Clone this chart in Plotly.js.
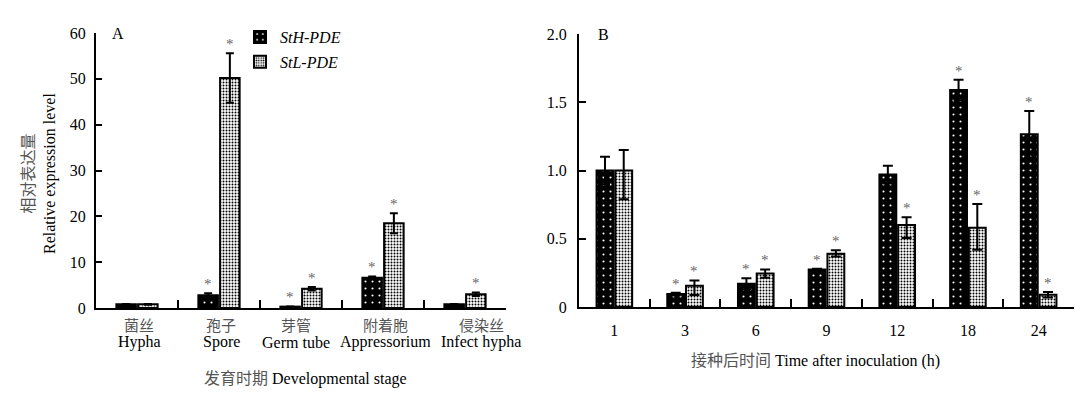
<!DOCTYPE html>
<html><head><meta charset="utf-8">
<script src="https://cdn.plot.ly/plotly-3.0.1.min.js"></script>
<style>html,body{margin:0;padding:0;background:#fff}#c{width:1088px;height:396px}</style>
</head><body><div id="c"></div>
<script>
// Panel A data
const stageCn = ['菌丝','孢子','芽管','附着胞','侵染丝'];
const stageEn = ['Hypha','Spore','Germ tube','Appressorium','Infect hypha'];
const aH = [0.8, 2.8, 0.3, 6.6, 0.8];
const aHerr = [0.1, 0.4, 0.05, 0.3, 0.1];
const aL = [0.8, 50.2, 4.2, 18.5, 3.0];
const aLerr = [0.1, 5.4, 0.4, 2.2, 0.4];
const aHsig = [0,1,1,1,0];
const aLsig = [0,1,1,1,1];
const aTicks = [0,10,20,30,40,50,60];
// Panel B data
const hours = ['1','3','6','9','12','18','24'];
const bH = [1.0, 0.095, 0.17, 0.275, 0.97, 1.59, 1.265];
const bHerr = [0.1, 0.01, 0.04, 0.005, 0.065, 0.075, 0.17];
const bL = [1.0, 0.155, 0.245, 0.39, 0.60, 0.58, 0.09];
const bLerrUp = [0.15, 0.04, 0.03, 0.025, 0.057, 0.175, 0.02];
const bLerrDn = [0.21, 0.067, 0.03, 0.02, 0.095, 0.16, 0.02];
const bHsig = [0,1,1,1,0,1,1];
const bLsig = [0,1,1,1,1,1,1];
const bTicks = [0,0.5,1.0,1.5,2.0];
const bTickText = ['0','0.5','1.0','1.5','2.0'];
const names = ['StH-PDE','StL-PDE'];

const W = 1088, H = 396;
const FONT = 'Liberation Serif, Times New Roman, Noto Sans CJK SC, serif';
const FS = 16;
const CN = (s, sz) => '<span style="color:#555;font-size:' + (sz||16) + 'px">' + s + '</span>';
const patH = {shape:'.', fgcolor:'#ffffff', bgcolor:'#000000', size:7, solidity:0.07, fillmode:'replace'};
const patL = {shape:'.', fgcolor:'#000000', bgcolor:'#ffffff', size:3, solidity:0.35, fillmode:'replace'};
const lineBlk = {color:'#000', width:2};

const traces = [
  {type:'bar', x:stageEn, y:aH, name:names[0], legendgroup:'h', xaxis:'x', yaxis:'y',
   marker:{color:'#000', pattern:patH, line:lineBlk},
   error_y:{type:'data', array:aHerr, color:'#000', thickness:2, width:4}},
  {type:'bar', x:stageEn, y:aL, name:names[1], legendgroup:'l', xaxis:'x', yaxis:'y',
   marker:{color:'#fff', pattern:patL, line:lineBlk},
   error_y:{type:'data', array:aLerr, color:'#000', thickness:2, width:4}},
  {type:'bar', x:hours, y:bH, name:names[0], showlegend:false, xaxis:'x2', yaxis:'y2',
   marker:{color:'#000', pattern:patH, line:lineBlk},
   error_y:{type:'data', array:bHerr, color:'#000', thickness:2, width:5}},
  {type:'bar', x:hours, y:bL, name:names[1], showlegend:false, xaxis:'x2', yaxis:'y2',
   marker:{color:'#fff', pattern:patL, line:lineBlk},
   error_y:{type:'data', array:bLerrUp, arrayminus:bLerrDn, symmetric:false, color:'#000', thickness:2, width:5}}
];

const domA = [96/W, 506/W], domB = [579/W, 1074/W];
const yDomA = [1-308/H, 1-33/H], yDomB = [1-307/H, 1-34/H];
const bargap = 0.47;

function stars(cats, vals, errs, sig, side, xa, ya, dom){
  const catPx = (dom[1]-dom[0])*W / cats.length;
  const shift = side * catPx*(1-bargap)/4;
  const out = [];
  cats.forEach((c,i)=>{ if(sig[i]) out.push({x:i, y:vals[i]+errs[i], xref:xa, yref:ya,
    text:'*', showarrow:false, xshift:shift, yanchor:'middle', yshift:9,
    font:{family:FONT, size:15, color:'#666'}}); });
  return out;
}

// two-line stage labels (Chinese over English), spread slightly like the original figure
const labelNudge = i => (i === stageEn.length-1 ? 16 : (i === 2 ? -5 : 2));
const stageLabels = [];
stageEn.forEach((e,i)=>{
  stageLabels.push({x:i, xref:'x', yref:'paper', y:1-326/H, xshift:labelNudge(i), text:CN(stageCn[i],15), showarrow:false,
    xanchor:'center', yanchor:'middle', font:{family:FONT, size:15, color:'#555'}});
  stageLabels.push({x:i, xref:'x', yref:'paper', y:1-342/H, xshift:labelNudge(i), text:e, showarrow:false,
    xanchor:'center', yanchor:'middle', font:{family:FONT, size:FS, color:'#000'}});
});

const annotations = [].concat(
  stars(stageEn, aH, aHerr, aHsig, -1, 'x','y', domA),
  stars(stageEn, aL, aLerr, aLsig, 1, 'x','y', domA),
  stars(hours, bH, bHerr, bHsig, -1, 'x2','y2', domB),
  stars(hours, bL, bLerrUp, bLsig, 1, 'x2','y2', domB),
  stageLabels,
  [
    {xref:'paper', yref:'paper', x:110/W, y:1-33/H, text:'A', showarrow:false, xanchor:'left', yanchor:'middle', font:{family:FONT,size:FS,color:'#000'}},
    {xref:'paper', yref:'paper', x:596/W, y:1-35/H, text:'B', showarrow:false, xanchor:'left', yanchor:'middle', font:{family:FONT,size:FS,color:'#000'}},
    {xref:'paper', yref:'paper', x:39/W, y:1-174/H, text:CN('相对表达量',16)+'<br>Relative expression level', textangle:-90, showarrow:false, xanchor:'center', yanchor:'middle', font:{family:FONT,size:FS,color:'#000'}},
    {xref:'paper', yref:'paper', x:305/W, y:1-379/H, text:CN('发育时期',16)+' Developmental stage', showarrow:false, xanchor:'center', yanchor:'middle', font:{family:FONT,size:FS,color:'#000'}},
    {xref:'paper', yref:'paper', x:815/W, y:1-361/H, text:CN('接种后时间',16)+' Time after inoculation (h)', showarrow:false, xanchor:'center', yanchor:'middle', font:{family:FONT,size:FS,color:'#000'}}
  ]
);

const axCommon = {showline:true, linecolor:'#000', linewidth:2, showgrid:false, zeroline:false,
  ticks:'inside', tickcolor:'#000', tickwidth:2, tickfont:{family:FONT, size:FS, color:'#000'}, fixedrange:true};

const layout = {
  width:W, height:H, margin:{l:0,r:0,t:0,b:0}, paper_bgcolor:'#fff', plot_bgcolor:'rgba(0,0,0,0)',
  barmode:'group', bargap:bargap, bargroupgap:0.1, showlegend:true,
  font:{family:FONT, size:FS, color:'#000'},
  legend:{x:240/W, y:1-20/H, xanchor:'left', yanchor:'top', bgcolor:'rgba(0,0,0,0)',
    font:{family:FONT, size:FS, color:'#000', style:'italic'}, traceorder:'grouped', tracegroupgap:1, itemwidth:30},
  xaxis:Object.assign({}, axCommon, {domain:domA, anchor:'y', type:'category', range:[-0.5,4.5], tickson:'boundaries', ticklen:8,
    showticklabels:false}),
  yaxis:Object.assign({}, axCommon, {domain:yDomA, anchor:'x', range:[0,60], tickvals:aTicks, ticklen:6, ticklabelstandoff:5}),
  xaxis2:Object.assign({}, axCommon, {domain:domB, anchor:'y2', type:'category', range:[-0.5,6.5], tickson:'boundaries', ticklen:8, tickangle:0, ticklabelstandoff:8}),
  yaxis2:Object.assign({}, axCommon, {domain:yDomB, anchor:'x2', range:[0,2], tickvals:bTicks, ticktext:bTickText, ticklen:7, ticklabelstandoff:7}),
  annotations:annotations
};
Plotly.newPlot('c', traces, layout, {displayModeBar:false, staticPlot:true});
</script></body></html>
